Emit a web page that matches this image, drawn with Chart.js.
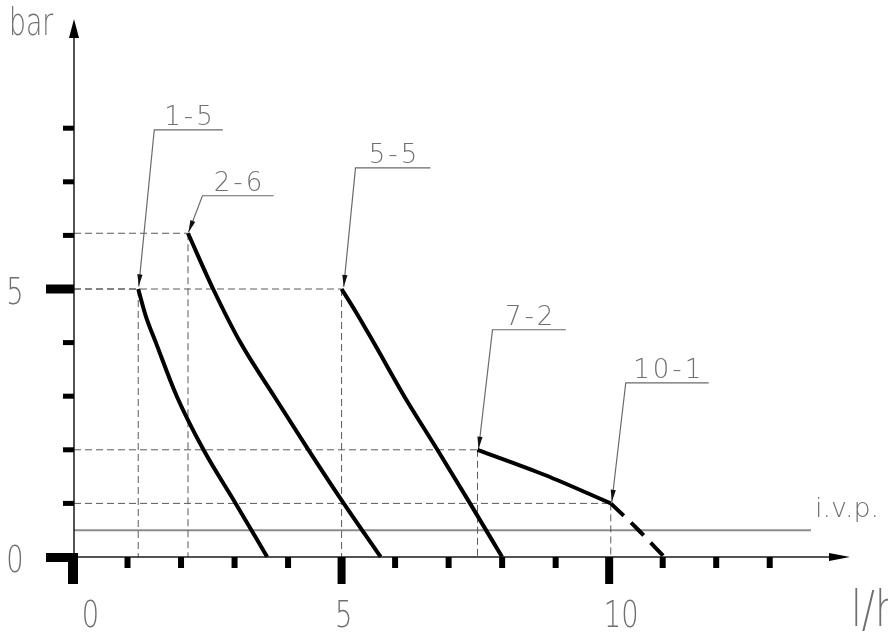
<!DOCTYPE html>
<html>
<head>
<meta charset="utf-8">
<script src="https://cdn.jsdelivr.net/npm/chart.js@4"></script>
<style>
  html, body { margin: 0; padding: 0; background: #ffffff; }
  #wrap { width: 888px; height: 636px; }
</style>
</head>
<body>
<div id="wrap"><canvas id="c" width="888" height="636"></canvas></div>
<script>
// ---- data ----
const curveNames = ["1-5", "2-6", "5-5", "7-2", "10-1"];
const curve15 = [[1.2,5.0],[1.34,4.5],[1.53,4.0],[1.92,3.0],[2.42,2.0],[3.02,1.0],[3.61,0]];
const curve26 = [[2.13,6.04],[2.6,5.0],[3.11,4.0],[3.74,3.0],[4.38,2.0],[5.04,1.0],[5.73,0]];
const curve55 = [[5.0,5.0],[5.25,4.6],[5.6,4.0],[6.17,3.0],[6.79,2.0],[7.4,1.0],[8.0,0]];
const curve72 = [[7.54,2.0],[8.8,1.53],[10.03,1.0]];
const curve101Dashed = [[10.03,1.0],[10.5,0.55],[11.03,0]];
const ivpLevel = 0.5;      // bar
const ivpEnd = 13.77;      // l/h
const ivpLabel = "i.v.p.";
// leader lines: [corner, right end, tip] in data units
const leader15  = [[1.50,7.97],[2.78,7.97],[1.21,5.05]];
const leader26  = [[2.40,6.74],[3.73,6.74],[2.14,6.06]];
const leader55  = [[5.26,7.26],[6.66,7.26],[5.04,5.04]];
const leader72  = [[7.82,4.24],[9.19,4.24],[7.56,2.02]];
const leader101 = [[10.31,3.25],[11.86,3.25],[10.05,1.03]];
const xMinorTicks = [1,2,3,4,6,7,8,9,11,12,13];
const xMajorTicks = [0,5,10];
const xTickLabels = ["0","5","10"];
const yMinorTicks = [1,2,3,4,6,7,8];
const yMajorTicks = [0,5];
const yTickLabels = ["0","5"];
const xAxisTitle = "l/h";
const yAxisTitle = "bar";
const xMax = 14.5, yMax = 10;

// ---- build datasets ----
const pts = a => a.map(p => ({x: p[0], y: p[1]}));
const curves = [curve15, curve26, curve55, curve72];
const leaders = [leader15, leader26, leader55, leader72, leader101];
const guideStarts = [curve15[0], curve26[0], curve55[0], curve72[0], curve101Dashed[0]];

const datasets = [];
curves.forEach((c, i) => datasets.push({
  label: curveNames[i], data: pts(c), borderColor: '#000', borderWidth: 4,
  cubicInterpolationMode: 'monotone', pointRadius: 0, showLine: true, order: 1, clip: false,
  borderCapStyle: 'butt'
}));
datasets.push({
  label: curveNames[4], data: pts(curve101Dashed), borderColor: '#000', borderWidth: 4,
  cubicInterpolationMode: 'monotone', borderDash: [18, 10], pointRadius: 0, showLine: true, order: 1, clip: false
});
guideStarts.forEach(s => {
  datasets.push({ data: pts([[0, s[1]], [s[0], s[1]]]), borderColor: '#5a5a5a', borderWidth: 1,
    borderDash: [7, 4], pointRadius: 0, showLine: true, order: 5, clip: false });
  datasets.push({ data: pts([[s[0], s[1]], [s[0], 0]]), borderColor: '#5a5a5a', borderWidth: 1,
    borderDash: [7, 4], pointRadius: 0, showLine: true, order: 5, clip: false });
});
datasets.push({ data: pts([[0, ivpLevel], [ivpEnd, ivpLevel]]), borderColor: '#8c8c8c', borderWidth: 2,
  pointRadius: 0, showLine: true, order: 6, clip: false });
leaders.forEach((l, k) => datasets.push({
  data: pts([l[1], l[0], l[2]]), borderColor: '#6a6a6a', borderWidth: 1.2, pointRadius: 0,
  showLine: true, tension: 0, order: 4, clip: false, leaderIndex: k
}));

function thinText(ctx, text, x, y, size, sx, align, spacing) {
  ctx.save();
  ctx.translate(x, y);
  ctx.scale(sx, 1);
  ctx.font = '200 ' + size + 'px "DejaVu Sans"';
  ctx.fillStyle = '#707070';
  ctx.textAlign = align;
  ctx.textBaseline = 'alphabetic';
  if (spacing) ctx.letterSpacing = spacing + 'px';
  ctx.fillText(text, 0, 0);
  ctx.restore();
}

const drawingPlugin = {
  id: 'drawingPlugin',
  afterDatasetsDraw(chart) {
    const ctx = chart.ctx;
    const xs = chart.scales.x, ys = chart.scales.y;
    const X = v => xs.getPixelForValue(v), Y = v => ys.getPixelForValue(v);
    const x0 = X(0), y0 = Y(0);
    ctx.save();
    // axes
    ctx.strokeStyle = '#1a1a1a'; ctx.lineWidth = 1.5;
    ctx.beginPath(); ctx.moveTo(x0, y0); ctx.lineTo(X(xMax) - 18, y0); ctx.stroke();
    ctx.beginPath(); ctx.moveTo(x0, y0); ctx.lineTo(x0, Y(yMax) + 15); ctx.stroke();
    ctx.fillStyle = '#000';
    ctx.beginPath(); ctx.moveTo(X(xMax), y0); ctx.lineTo(X(xMax) - 21, y0 - 4); ctx.lineTo(X(xMax) - 21, y0 + 4); ctx.closePath(); ctx.fill();
    ctx.beginPath(); ctx.moveTo(x0, Y(yMax) - 2); ctx.lineTo(x0 - 5, Y(yMax) + 17); ctx.lineTo(x0 + 5, Y(yMax) + 17); ctx.closePath(); ctx.fill();
    // x ticks
    xMinorTicks.forEach(v => ctx.fillRect(X(v) - 3, y0, 6, 11));
    xMajorTicks.forEach(v => {
      if (v === 0) ctx.fillRect(x0 - 6, y0 - 4, 10, 31);
      else ctx.fillRect(X(v) - 4, y0, 8, 27);
    });
    // y ticks
    yMinorTicks.forEach(v => ctx.fillRect(x0 - 11, Y(v) - 2.5, 11, 5));
    yMajorTicks.forEach(v => {
      if (v === 0) ctx.fillRect(x0 - 28, y0 - 4, 32, 9);
      else ctx.fillRect(x0 - 28, Y(v) - 4.5, 28, 9);
    });
    // leader arrowheads and labels
    chart.data.datasets.forEach((ds, i) => {
      if (ds.leaderIndex === undefined) return;
      const p = chart.getDatasetMeta(i).data;
      const right = p[0], corner = p[1], tip = p[2];
      const ang = Math.atan2(tip.y - corner.y, tip.x - corner.x);
      ctx.save();
      ctx.translate(tip.x, tip.y); ctx.rotate(ang);
      ctx.fillStyle = '#111';
      ctx.beginPath(); ctx.moveTo(0, 0); ctx.lineTo(-12, -2.6); ctx.lineTo(-12, 2.6); ctx.closePath(); ctx.fill();
      ctx.restore();
      thinText(ctx, curveNames[ds.leaderIndex], (corner.x + right.x) / 2 + 1.5, corner.y - 5, 26, 1, 'center', 3);
    });
    // tick labels
    const xLabelShift = [16.5, 2, 12];
    xMajorTicks.forEach((v, i) => thinText(ctx, xTickLabels[i], X(v) + xLabelShift[i], 627, 38, 0.72, 'center'));
    yMajorTicks.forEach((v, i) => thinText(ctx, yTickLabels[i], 15, Y(v) + 15, 38, 0.72, 'center'));
    thinText(ctx, yAxisTitle, 9, 35, 37, 0.72, 'left');
    thinText(ctx, xAxisTitle, 851, 626, 50, 0.78, 'left');
    thinText(ctx, ivpLabel, X(ivpEnd) + 4, Y(ivpLevel) - 13, 27, 1, 'left');
    ctx.restore();
  }
};

new Chart(document.getElementById('c'), {
  type: 'scatter',
  data: { datasets },
  options: {
    responsive: false, animation: false, devicePixelRatio: 1,
    layout: { padding: { left: 74, right: 38, top: 21, bottom: 79 } },
    plugins: { legend: { display: false }, tooltip: { enabled: false } },
    scales: {
      x: { type: 'linear', min: 0, max: xMax, display: false },
      y: { type: 'linear', min: 0, max: yMax, display: false }
    }
  },
  plugins: [drawingPlugin]
});
</script>
</body>
</html>
